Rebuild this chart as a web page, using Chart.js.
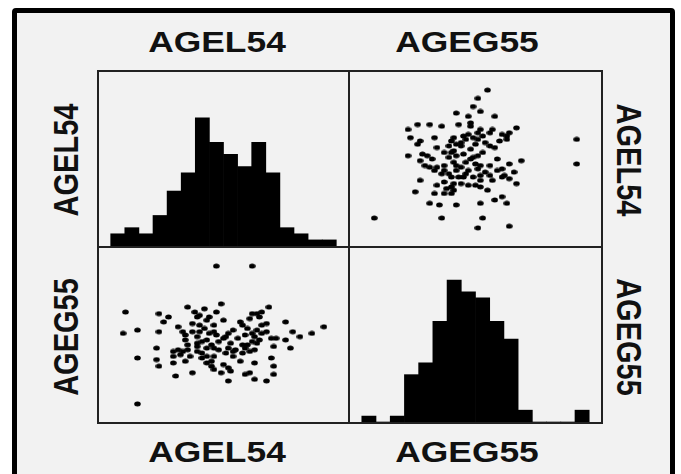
<!DOCTYPE html>
<html>
<head>
<meta charset="utf-8">
<script src="https://cdn.jsdelivr.net/npm/chart.js@4"></script>
<style>
  body { margin: 0; background: #fff; width: 681px; height: 474px; overflow: hidden; position: relative;
         font-family: "Liberation Sans", Arial, sans-serif; }
  #frame { position: absolute; left: 12px; top: 8px; width: 653px; height: 480px;
           border: 5px solid #000; border-radius: 4px; background: #f2f2f2; }
  .panel { position: absolute; border: 2px solid #222; }
  .panel canvas { display: block; }
  .lab { position: absolute; font-weight: bold; font-size: 29px; line-height: 1; white-space: nowrap; color: #111; }
</style>
</head>
<body>
<div id="frame"></div>

<div class="panel" style="left:97px;top:70px;"><canvas id="tl" width="249" height="174"></canvas></div>
<div class="panel" style="left:348px;top:70px;"><canvas id="tr" width="251" height="174"></canvas></div>
<div class="panel" style="left:97px;top:246px;"><canvas id="bl" width="249" height="174"></canvas></div>
<div class="panel" style="left:348px;top:246px;"><canvas id="br" width="251" height="174"></canvas></div>

<div class="lab" style="left:217px;top:42px;transform:translate(-50%,-50%) scale(1.22,1);">AGEL54</div>
<div class="lab" style="left:467px;top:42px;transform:translate(-50%,-50%) scale(1.22,1);">AGEG55</div>
<div class="lab" style="left:217px;top:452px;transform:translate(-50%,-50%) scale(1.22,1);">AGEL54</div>
<div class="lab" style="left:467px;top:452px;transform:translate(-50%,-50%) scale(1.22,1);">AGEG55</div>
<div class="lab" style="left:66px;top:160px;transform:translate(-50%,-50%) scale(1.22,1) rotate(-90deg);">AGEL54</div>
<div class="lab" style="left:66px;top:337px;transform:translate(-50%,-50%) scale(1.22,1) rotate(-90deg);">AGEG55</div>
<div class="lab" style="left:629px;top:160px;transform:translate(-50%,-50%) scale(1.22,1) rotate(90deg);">AGEL54</div>
<div class="lab" style="left:629px;top:337px;transform:translate(-50%,-50%) scale(1.22,1) rotate(90deg);">AGEG55</div>

<script>
// values (both variables on a 0-100 panel scale)
const agel54 = [
  47,62,9,8,14,23,23,27,25,35,
  49,69,14,22,22,23,30,37,14,29,
  29,29,34,76,92,87,82,79,76,78,
  72,71,70,71,71,68,63,61,63,52,
  49,53,52,50,45,43,41,46,34,31,
  33,34,37,38,40,42,39,44,47,46,
  46,47,50,50,52,54,57,58,61,62,
  64,66,65,68,66,64,63,62,64,63,
  61,59,58,57,55,54,52,51,48,46,
  43,41,39,39,40,42,44,35,33,32,
  36,39,41,43,45,46,54,59,60,68,
  70,60,39,31,53,56,43,40,59,45,
  48,58,51,62,65,66,37,35,43
];
const ageg55 = [
  92,92,64,51,53,52,63,61,58,67,
  69,67,36,42,35,31,25,27,8,40,
  37,33,34,58,55,51,49,52,47,42,
  48,43,36,31,26,22,23,27,33,22,
  27,28,30,32,31,33,36,37,47,55,
  52,50,57,64,62,66,61,61,64,56,
  52,50,59,48,51,53,58,56,60,63,
  63,64,61,57,51,53,49,46,45,41,
  40,42,39,34,41,40,42,39,41,42,
  42,46,45,49,52,54,51,44,40,38,
  37,40,39,37,34,29,37,50,54,52,
  48,44,43,41,45,48,59,56,26,44,
  46,44,49,51,47,56,52,41,47
];

// histogram bins (bin centres) and counts
const binCenters = [0.5,1.5,2.5,3.5,4.5,5.5,6.5,7.5,8.5,9.5,10.5,11.5,12.5,13.5,14.5,15.5];
const histL54 = [2,3,2,5,9,12,21,17,15,13,17,12,3,2,1,1];
const histG55 = [1,0,1,8,10,17,24,22,21,17,14,2,0,0,0,2];

// small ellipse dot (picture is stretched sideways)
const dot = document.createElement('canvas');
dot.width = 7; dot.height = 6;
const dctx = dot.getContext('2d');
dctx.fillStyle = '#000';
dctx.beginPath();
dctx.ellipse(3.5, 3, 3.3, 2.5, 0, 0, Math.PI * 2);
dctx.fill();

const baseOpts = {
  responsive: false,
  animation: false,
  layout: { padding: 0 },
  plugins: { legend: { display: false }, tooltip: { enabled: false } }
};

function scatterChart(id, xs, ys) {
  return new Chart(document.getElementById(id), {
    type: 'scatter',
    data: {
      datasets: [{
        data: xs.map((x, i) => ({ x: x, y: ys[i] })),
        pointStyle: dot,
        pointRadius: 3,
        clip: false
      }]
    },
    options: {
      ...baseOpts,
      scales: {
        x: { type: 'linear', min: 0, max: 100, display: false },
        y: { type: 'linear', min: 0, max: 100, display: false }
      }
    }
  });
}

function histChart(id, counts, ymax) {
  return new Chart(document.getElementById(id), {
    type: 'bar',
    data: {
      datasets: [{
        data: binCenters.map((c, i) => ({ x: c, y: counts[i] })),
        backgroundColor: '#000',
        borderWidth: 0,
        barPercentage: 1,
        categoryPercentage: 1
      }]
    },
    options: {
      ...baseOpts,
      scales: {
        x: { type: 'linear', min: -0.83, max: 16.83, offset: false, display: false },
        y: { min: 0, max: ymax, display: false }
      }
    }
  });
}

histChart('tl', histL54, 28.5);
scatterChart('tr', ageg55, agel54);
scatterChart('bl', agel54, ageg55);
histChart('br', histG55, 29.4);
</script>
</body>
</html>
